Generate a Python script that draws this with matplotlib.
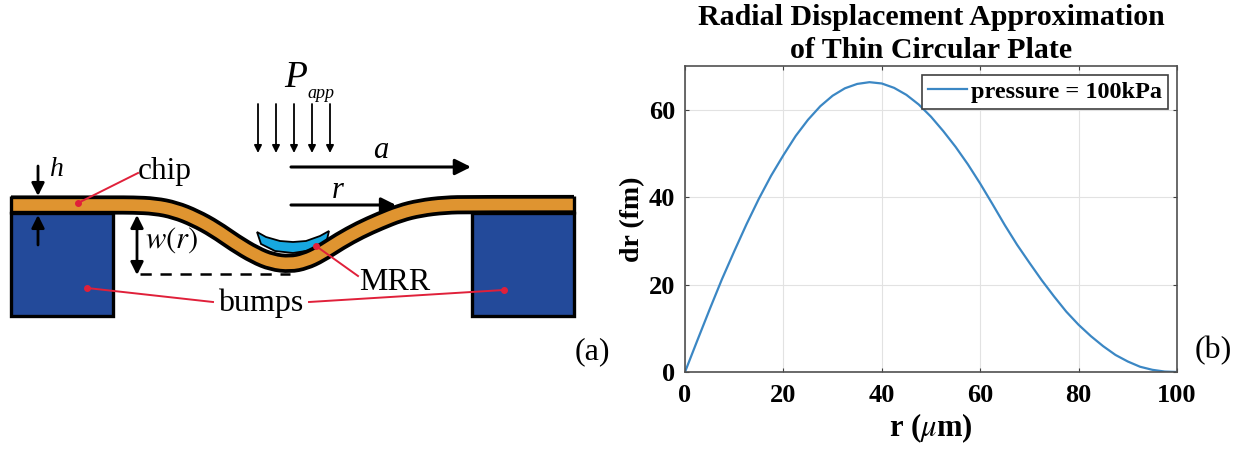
import matplotlib
matplotlib.use('Agg')
import matplotlib.pyplot as plt
from matplotlib.path import Path
from matplotlib.patches import PathPatch, Polygon, Rectangle

plt.rcParams['font.family'] = ['Liberation Serif', 'DejaVu Serif']
plt.rcParams['mathtext.fontset'] = 'stix'

W, H = 1243, 449

# plot (b): values
r_um = [0, 2.5, 5, 7.5, 10, 12.5, 15, 17.5, 20, 22.5, 25, 27.5, 30, 32.5, 35, 37.5, 40,
        42.5, 45, 47.5, 50, 52.5, 55, 57.5, 60, 62.5, 65, 67.5, 70, 72.5, 75, 77.5, 80,
        82.5, 85, 87.5, 90, 92.5, 95, 97.5, 100]
dr_fm = [0, 7.2, 14.3, 21.2, 27.6, 33.8, 39.6, 44.9, 49.6, 54, 57.7, 60.8, 63.2, 64.9, 65.9, 66.3, 66,
         65, 63.4, 61.2, 58.4, 55.1, 51.5, 47.5, 43.1, 38.4, 33.6, 29.1, 25, 21, 17.3, 13.8, 10.8,
         8.2, 5.9, 3.9, 2.4, 1.2, 0.5, 0.1, 0]
x_ticks = [0, 20, 40, 60, 80, 100]
y_ticks = [0, 20, 40, 60]
title_lines = "Radial Displacement Approximation\nof Thin Circular Plate"
legend_label = "pressure = 100kPa"

# sketch (a): shapes in pixels of the picture
chip_line = [(11, 205), (113, 205), (133, 205), (155, 206), (175, 210), (195, 218), (215, 229),
             (235, 243), (255, 255), (272, 262), (290, 264), (305, 261), (320, 254), (340, 241),
             (360, 230), (380, 221), (400, 213), (420, 208), (445, 205), (470, 204.5), (574, 204.5)]
mrr_shape = [(257, 232), (266, 237), (280, 241), (293, 242), (306, 241), (320, 236), (329, 231),
             (326, 244), (312, 250), (293, 253), (275, 251), (261, 244)]
bump_boxes = [(11, 213, 102, 103), (472, 213, 102, 103)]
press_x = [258, 276, 294, 312, 330]
red_lines = [((78, 203), (138, 173)), ((87, 288), (213, 302)),
             ((504, 290), (309, 302)), ((316, 246), (358, 276))]
arrow_list = [((291, 167), (471, 167), 2.2, 24), ((291, 205), (396, 205), 2.2, 22),
              ((38, 166), (38, 196), 2, 19), ((38, 245), (38, 215), 2, 19)]

fig = plt.figure(figsize=(W / 100, H / 100), dpi=100)

# sketch axes covers the whole figure, in pixels
sk = fig.add_axes([0, 0, 1, 1])
sk.set_xlim(0, W)
sk.set_ylim(H, 0)
sk.axis('off')


def smooth(pts):
    # quadratic pieces through the midpoints
    verts = [pts[0]]
    codes = [Path.MOVETO]
    for i in range(1, len(pts) - 1):
        mid = ((pts[i][0] + pts[i + 1][0]) / 2, (pts[i][1] + pts[i + 1][1]) / 2)
        if i == len(pts) - 2:
            mid = pts[-1]
        verts += [pts[i], mid]
        codes += [Path.CURVE3, Path.CURVE3]
    return Path(verts, codes)


def arrow(p0, p1, lw, ms):
    sk.annotate('', xy=p1, xytext=p0, xycoords='data',
                arrowprops=dict(arrowstyle='-|>', color='black', lw=lw, mutation_scale=ms,
                                shrinkA=0, shrinkB=0))


for x0, y0, w, h in bump_boxes:
    sk.add_patch(Rectangle((x0, y0), w, h, fc='#234a9a', ec='black', lw=2.4, joinstyle='miter'))

sk.add_patch(Polygon(mrr_shape, closed=True, fc='#17a7e0', ec='black', lw=1.3))
sk.add_patch(PathPatch(smooth(chip_line), fc='none', ec='black', lw=13.8, capstyle='butt'))
sk.add_patch(PathPatch(smooth(chip_line), fc='none', ec='#df9430', lw=8.4, capstyle='butt'))
# closing edges of the chip
sk.plot([11, 11], [195.5, 214], color='black', lw=2.4, solid_capstyle='butt')
sk.plot([574, 574], [195.5, 214], color='black', lw=2.4, solid_capstyle='butt')

for xp in press_x:
    arrow((xp, 104), (xp, 153), 1.3, 11)
for p0, p1, lw, ms in arrow_list:
    arrow(p0, p1, lw, ms)
sk.annotate('', xy=(137, 215), xytext=(137, 275),
            arrowprops=dict(arrowstyle='<|-|>', color='black', lw=2, mutation_scale=19,
                            shrinkA=0, shrinkB=0))
sk.plot([140, 290], [274, 274], color='black', lw=1.8, dashes=(4.5, 3.5))

for p0, p1 in red_lines:
    sk.plot([p0[0], p1[0]], [p0[1], p1[1]], color='#e0203a', lw=1.4)
    sk.plot([p0[0]], [p0[1]], 'o', color='#e0203a', ms=4)

sk.text(296, 78, 'P', style='italic', fontsize=27, ha='center', va='center')
sk.text(321, 93, 'app', style='italic', fontsize=13, ha='center', va='center')
sk.text(381, 151, 'a', style='italic', fontsize=22, ha='center', va='center')
sk.text(338, 191, 'r', style='italic', fontsize=22, ha='center', va='center')
sk.text(57, 170, 'h', style='italic', fontsize=20, ha='center', va='center')
sk.text(165, 171, 'chip', fontsize=22.5, ha='center', va='center')
sk.text(172, 240, r'$w(r)$', fontsize=22, ha='center', va='center')
sk.text(261, 303, 'bumps', fontsize=23, ha='center', va='center')
sk.text(395, 282, 'MRR', fontsize=23, ha='center', va='center')
sk.text(592, 352, '(a)', fontsize=23, ha='center', va='center')
sk.text(1213, 351, '(b)', fontsize=23, ha='center', va='center')

# plot (b)
ax = fig.add_axes([685 / W, 1 - 372 / H, (1177 - 685) / W, (372 - 66) / H])
ax.plot(r_um, dr_fm, color='#3b87c4', lw=1.6, label=legend_label)
ax.set_xlim(0, 100)
ax.set_ylim(0, 70)
ax.set_xticks(x_ticks)
ax.set_yticks(y_ticks)
ax.grid(True, color='#e2e2e2', lw=0.8)
ax.set_axisbelow(True)
ax.tick_params(direction='in', length=3, width=0.8, color='#404040', top=True, right=True,
               labelsize=19, pad=7)
ax.tick_params(axis='x', pad=9)
for lab in ax.get_xticklabels() + ax.get_yticklabels():
    lab.set_fontweight('bold')
for sp in ax.spines.values():
    sp.set_color('#505050')
    sp.set_linewidth(1.2)
ax.set_title(title_lines, fontsize=21.5, fontweight='bold', pad=6, linespacing=1.25)
ax.set_xlabel(r'r ($\mu$m)', fontsize=22, fontweight='bold', labelpad=3)
ax.set_ylabel('dr (fm)', fontsize=20, fontweight='bold', labelpad=3)
leg = ax.legend(loc='upper right', prop={'weight': 'bold', 'size': 17.5}, fancybox=False,
                framealpha=1, edgecolor='#404040', borderaxespad=0.35, handlelength=1.6,
                handletextpad=0.2, borderpad=0.25)
leg.get_frame().set_linewidth(1.2)

fig.savefig('out.png', dpi=100)
